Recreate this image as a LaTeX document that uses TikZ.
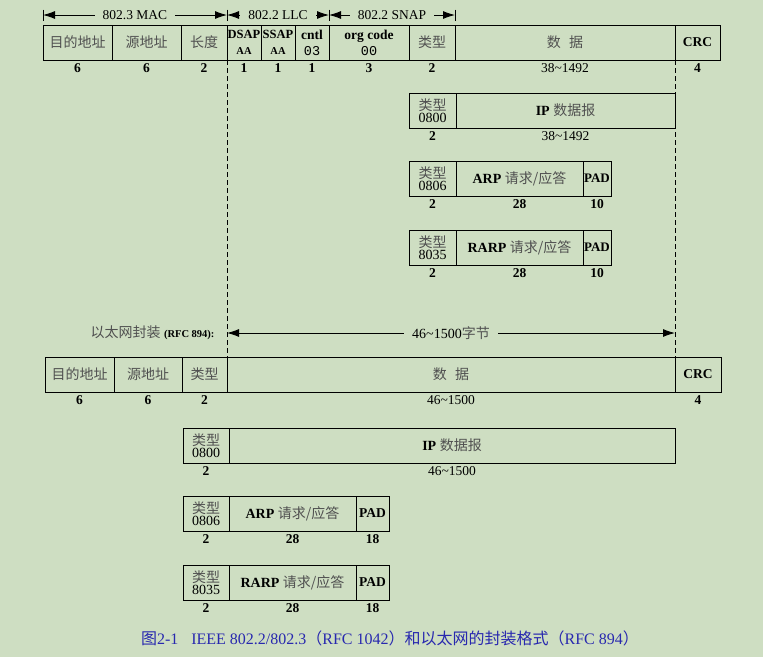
\documentclass[tikz,border=0pt]{standalone}
\usepackage{fontspec}
\setmainfont{Liberation Serif}
\setmonofont{Liberation Mono}
\newfontfamily\cjk{Noto Sans CJK SC}
\usetikzlibrary{positioning,arrows.meta}
\definecolor{paper}{RGB}{206,222,194}
\definecolor{zhgray}{RGB}{80,80,80}
\definecolor{capblue}{RGB}{40,40,175}
\newcommand{\zh}[1]{{\cjk\color{zhgray}#1}}
\newcommand{\rng}[2]{{\mdseries #1\textasciitilde #2}}
\newcommand{\lab}{\fontsize{10.5}{12}\selectfont}
\tikzset{
  field/.style={draw, line width=0.8pt, minimum width=#1, minimum height=35pt,
    inner sep=0pt, outer sep=0pt, align=center},
  typefield/.style={field=#1, font=\fontsize{14}{12.5}\selectfont},
  size/.style={font=\fontsize{13.5}{15}\selectfont\bfseries, anchor=north,
    inner sep=1pt, yshift=-2.5pt},
  dim/.style={line width=0.9pt, <->},
  dimlabel/.style={fill=paper, inner xsep=8pt, inner ysep=1pt},
  tick/.style={line width=0.9pt},
  guide/.style={line width=0.8pt, dash pattern=on 5pt off 3pt},
}
\begin{document}
\begin{tikzpicture}[x=1pt,y=-1pt,font=\fontsize{13.5}{15}\selectfont,
    >={Latex[length=12pt,width=8pt]}]
  \fill[paper] (0,0) rectangle (763,657);
  \useasboundingbox (0,0) rectangle (763,657);
  % 802.2/802.3 frame
  \node[field=69pt, anchor=north west, font=\fontsize{14}{16}\selectfont] (dst) at (43,25) {\zh{目的地址}};
  \node[field=69pt, right=0pt of dst, font=\fontsize{14}{16}\selectfont] (src) {\zh{源地址}};
  \node[field=46pt, right=0pt of src, font=\fontsize{14}{16}\selectfont] (len) {\zh{长度}};
  \node[field=34pt, right=0pt of len] (dsap) {\textbf{\fontsize{12.5}{14}\selectfont DSAP}\\[1pt]\textbf{\lab AA}};
  \node[field=34pt, right=0pt of dsap] (ssap) {\textbf{\fontsize{12.5}{14}\selectfont SSAP}\\[1pt]\textbf{\lab AA}};
  \node[field=34pt, right=0pt of ssap] (cntl) {\textbf{cntl}\\[1pt]{\ttfamily 03}};
  \node[field=80pt, right=0pt of cntl] (org) {\textbf{org code}\\[1pt]{\ttfamily 00}};
  \node[field=46pt, right=0pt of org, font=\fontsize{14}{16}\selectfont] (type) {\zh{类型}};
  \node[field=220pt, right=0pt of type, font=\fontsize{14}{16}\selectfont] (data) {\zh{数\hspace{0.6em}据}};
  \node[field=45pt, right=0pt of data] (crc) {\textbf{CRC}};
  % header spans
  \foreach \a/\b/\t in {dst.north west/len.north east/802.3 MAC,
      len.north east/cntl.north east/802.2 LLC,
      cntl.north east/type.north east/802.2 SNAP}
    \draw[dim] (\a |- 0,15) -- node[dimlabel] {\t} (\b |- 0,15);
  \foreach \n in {dst.north west,len.north east,cntl.north east,type.north east}
    \draw[tick] (\n |- 0,9.5) -- (\n |- 0,20.5);
  % payloads after the SNAP type
  \node[typefield=47pt, anchor=north west] (ip-type) at (409,93) {\zh{类型}\\0800};
  \node[field=219pt, right=0pt of ip-type, font=\fontsize{14}{16}\selectfont] (ip-body) {\textbf{IP} \zh{数据报}};
  \foreach \n/\y/\t/\c in {arp/161/ARP/0806, rarp/230/RARP/8035} {
    \node[typefield=47pt, anchor=north west] (\n-type) at (409,\y) {\zh{类型}\\\c};
    \node[field=127pt, right=0pt of \n-type, font=\fontsize{14}{16}\selectfont] (\n-body) {\textbf{\t} \zh{请求/应答}};
    \node[field=28pt, right=0pt of \n-body] (\n-pad) {\textbf{\fontsize{13}{15}\selectfont PAD}};
  }
  % Ethernet frame
  \node[field=69pt, anchor=north west, font=\fontsize{14}{16}\selectfont] (edst) at (45,357) {\zh{目的地址}};
  \node[field=68pt, right=0pt of edst, font=\fontsize{14}{16}\selectfont] (esrc) {\zh{源地址}};
  \node[field=45pt, right=0pt of esrc, font=\fontsize{14}{16}\selectfont] (etype) {\zh{类型}};
  \node[field=448pt, right=0pt of etype, font=\fontsize{14}{16}\selectfont] (edata) {\zh{数\hspace{0.6em}据}};
  \node[field=46pt, right=0pt of edata] (ecrc) {\textbf{CRC}};
  \node[anchor=east, font=\fontsize{14}{16}\selectfont] (encap) at (218,333)
    {\zh{以太网封装} \textbf{\lab (RFC 894):}};
  \coordinate (eL) at (etype.north east |- 0,333);
  \coordinate (eR) at (ecrc.north west |- 0,333);
  \draw[dim] (eL) -- node[dimlabel, font=\fontsize{14}{16}\selectfont] {46\textasciitilde 1500\zh{字节}} (eR);
  % Ethernet payloads
  \node[typefield=46pt, anchor=north west] (eip-type) at (183,428) {\zh{类型}\\0800};
  \node[field=446pt, right=0pt of eip-type, font=\fontsize{14}{16}\selectfont] (eip-body) {\textbf{IP} \zh{数据报}};
  \foreach \n/\y/\t/\c in {earp/496/ARP/0806, erarp/565/RARP/8035} {
    \node[typefield=46pt, anchor=north west] (\n-type) at (183,\y) {\zh{类型}\\\c};
    \node[field=127pt, right=0pt of \n-type, font=\fontsize{14}{16}\selectfont] (\n-body) {\textbf{\t} \zh{请求/应答}};
    \node[field=33pt, right=0pt of \n-body] (\n-pad) {\textbf{PAD}};
  }
  % guide lines between the two frames
  \draw[guide] (len.south east) -- (etype.north east);
  \draw[guide] (crc.south west) -- (ecrc.north west);
  % field sizes
  \foreach \f/\s in {dst/6, src/6, len/2, dsap/1, ssap/1, cntl/1, org/3, type/2,
      data/{\rng{38}{1492}}, crc/4, ip-type/2, ip-body/{\rng{38}{1492}},
      arp-type/2, arp-body/28, arp-pad/10, rarp-type/2, rarp-body/28, rarp-pad/10,
      edst/6, esrc/6, etype/2, edata/{\rng{46}{1500}}, ecrc/4,
      eip-type/2, eip-body/{\rng{46}{1500}},
      earp-type/2, earp-body/28, earp-pad/18, erarp-type/2, erarp-body/28, erarp-pad/18}
    \node[size] (\f-size) at (\f.south) {\s};
  % caption
  \node[text=capblue, font=\fontsize{16}{18}\selectfont] (caption) at (390,638)
    {{\cjk 图}2-1\hspace{0.8em}IEEE 802.2/802.3{\cjk （}RFC 1042{\cjk ）和以太网的封装格式（}RFC 894{\cjk ）}};
\end{tikzpicture}
\end{document}
